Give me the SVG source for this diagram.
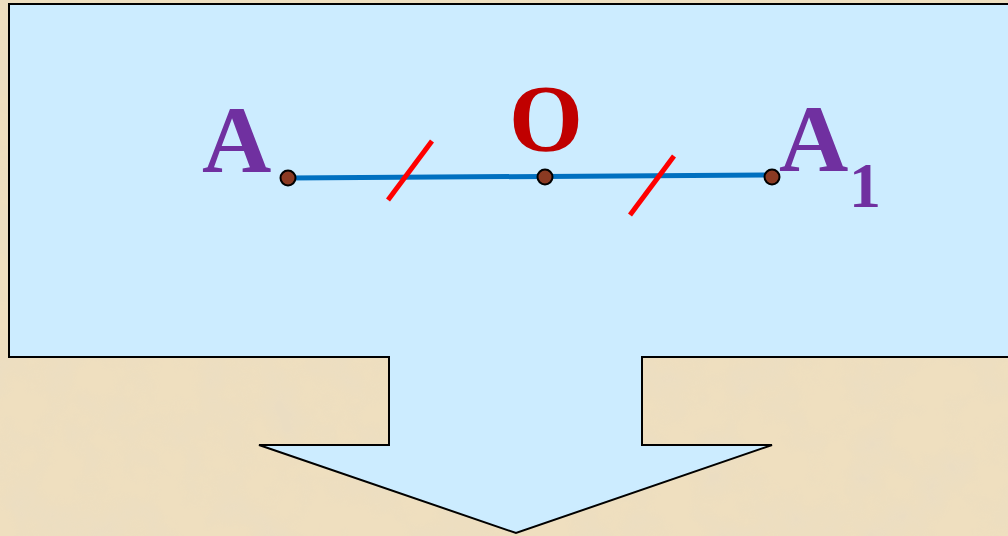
<svg xmlns="http://www.w3.org/2000/svg" width="1008" height="536" viewBox="0 0 1008 536">
<defs>
<filter id="paper" x="0" y="0" width="100%" height="100%">
<feTurbulence type="fractalNoise" baseFrequency="0.02" numOctaves="4" seed="3" result="n"/>
<feColorMatrix in="n" type="matrix" values="0 0 0 0 0.82  0 0 0 0 0.72  0 0 0 0 0.55  0 0 0 2.5 -1.0"/>
</filter>
<style>
.lbl{font-family:"Liberation Serif","Times New Roman",serif;font-weight:bold}
.pt{fill:#8B3A22;stroke:#000;stroke-width:2}
.tick{stroke:#FF0000;stroke-width:5}
</style>
</defs>
<g id="background">
<rect x="0" y="0" width="1008" height="536" fill="#EFDFBF"/>
<rect x="0" y="0" width="1008" height="536" filter="url(#paper)" opacity="0.6"/>
</g>
<g id="callout">
<path d="M9,4 L1012,4 L1012,357 L642,357 L642,445 L772,445 L516,533 L259,445 L389,445 L389,357 L9,357 Z" fill="#CCECFF" stroke="#000" stroke-width="2"/>
</g>
<g id="connectors">
<line x1="288" y1="178" x2="772" y2="175" stroke="#0070C0" stroke-width="5"/>
<line class="tick" x1="388" y1="200" x2="432" y2="141"/>
<line class="tick" x1="630" y1="215" x2="674" y2="156"/>
</g>
<g id="point-A">
<circle class="pt" cx="288" cy="178" r="7.5"/>
<text class="lbl" x="202" y="172" font-size="96" fill="#7030A0">A</text>
</g>
<g id="point-O">
<circle class="pt" cx="545" cy="177" r="7.5"/>
<text class="lbl" x="546" y="151" font-size="95" fill="#C00000" text-anchor="middle">O</text>
</g>
<g id="point-A1">
<circle class="pt" cx="772" cy="177" r="7.5"/>
<text class="lbl" x="779" y="171" font-size="96" fill="#7030A0">A<tspan font-size="64" x="849" y="207">1</tspan></text>
</g>
</svg>
